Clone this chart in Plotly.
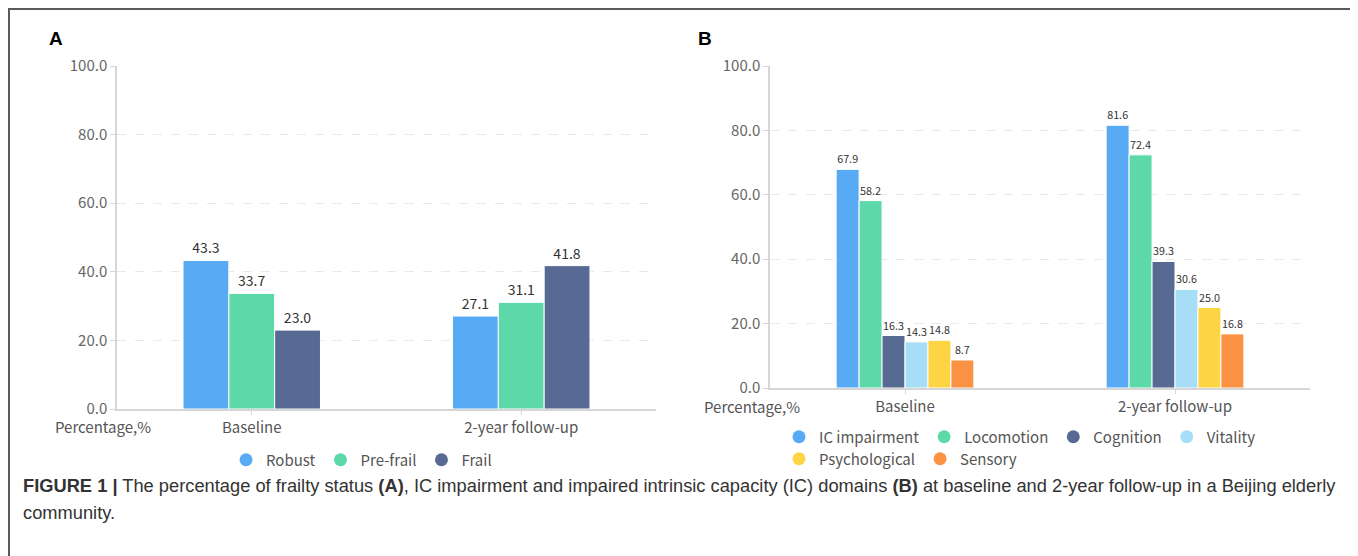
import plotly.graph_objects as go

W, H = 1358, 556
OFF = 8  # page body margin

# ---- data ----
cats = ["Baseline", "2-year follow-up"]
frailty_names = ["Robust", "Pre-frail", "Frail"]
robust = [43.3, 27.1]
prefrail = [33.7, 31.1]
frail = [23.0, 41.8]

ic_names = ["IC impairment", "Locomotion", "Cognition", "Vitality", "Psychological", "Sensory"]
ic_impairment = [67.9, 81.6]
locomotion = [58.2, 72.4]
cognition = [16.3, 39.3]
vitality = [14.3, 30.6]
psychological = [14.8, 25.0]
sensory = [8.7, 16.8]

y_ticks = [0, 20, 40, 60, 80, 100]

colors = ["#58aaf4", "#5dd8a9", "#566a93", "#a6def8", "#fdd544", "#fb9143"]

FONT = "Noto Sans CJK SC"
GRAY = "#666666"

fig = go.Figure()

def px_x(p):
    return (p - OFF) / W

def px_y(p):
    return 1 - (p - OFF) / H

# Panel A bars
for name, vals, col in zip(frailty_names, [robust, prefrail, frail], colors[:3]):
    fig.add_trace(go.Bar(
        x=cats, y=vals, name=name, xaxis="x", yaxis="y",
        marker=dict(color=col, line=dict(color="white", width=1)),
        text=[f"{v:.1f}" for v in vals], textposition="outside",
        textfont=dict(family=FONT, size=14, color="#333333"),
        cliponaxis=False, showlegend=False,
    ))

# Panel B bars
for name, vals, col in zip(ic_names,
                           [ic_impairment, locomotion, cognition, vitality, psychological, sensory],
                           colors):
    fig.add_trace(go.Bar(
        x=cats, y=vals, name=name, xaxis="x2", yaxis="y2",
        marker=dict(color=col, line=dict(color="white", width=1)),
        text=[f"{v:.1f}" for v in vals], textposition="outside",
        textfont=dict(family=FONT, size=10.8, color="#333333"),
        cliponaxis=False, showlegend=False,
    ))

# Legend entries (circle symbols)
for name, col in zip(frailty_names, colors[:3]):
    fig.add_trace(go.Scatter(x=[None], y=[None], mode="markers", name=name,
                             marker=dict(symbol="circle", size=13, color=col),
                             xaxis="x", yaxis="y", legend="legend"))
for i, (name, col) in enumerate(zip(ic_names, colors)):
    fig.add_trace(go.Scatter(x=[None], y=[None], mode="markers", name=name,
                             marker=dict(symbol="circle", size=13, color=col),
                             xaxis="x2", yaxis="y2",
                             legend="legend2" if i < 4 else "legend3"))

yax_common = dict(
    range=[0, 100], tickvals=y_ticks, tickformat=".1f",
    showgrid=True, gridcolor="#e8e8e8", griddash="dash", gridwidth=1,
    showline=True, linecolor="#d6d6d6", linewidth=1.5,
    ticks="outside", ticklen=5, tickcolor="#d6d6d6",
    tickfont=dict(family=FONT, size=15, color=GRAY),
    zeroline=False, fixedrange=True, automargin=False,
)
xax_common = dict(
    showline=True, linecolor="#d6d6d6", linewidth=1.5,
    ticks="outside", ticklen=4, tickcolor="#d6d6d6",
    tickfont=dict(family=FONT, size=15, color="#555555"),
    showgrid=False, automargin=False,
)

legend_font = dict(family=FONT, size=15, color="#555555")

fig.update_layout(
    width=W, height=H,
    margin=dict(l=0, r=0, t=0, b=0, autoexpand=False),
    paper_bgcolor="white", plot_bgcolor="white",
    barmode="group", bargap=0.49, bargroupgap=0,
    xaxis=dict(domain=[px_x(117), px_x(656)], anchor="y", **xax_common),
    yaxis=dict(domain=[px_y(409), px_y(66)], anchor="x", **yax_common),
    xaxis2=dict(domain=[px_x(770), px_x(1310)], anchor="y2", **xax_common),
    yaxis2=dict(domain=[px_y(388), px_y(66)], anchor="x2", **yax_common),
    legend=dict(orientation="h", x=px_x(226), y=px_y(460), xanchor="left", yanchor="middle",
                font=legend_font, bgcolor="rgba(0,0,0,0)"),
    legend2=dict(orientation="h", x=px_x(779), y=px_y(437), xanchor="left", yanchor="middle",
                 font=legend_font, bgcolor="rgba(0,0,0,0)"),
    legend3=dict(orientation="h", x=px_x(779), y=px_y(459), xanchor="left", yanchor="middle",
                 font=legend_font, bgcolor="rgba(0,0,0,0)"),
    showlegend=True,
)

# Border
BC = "#5a5a5a"
fig.add_shape(type="line", xref="paper", yref="paper",
              x0=px_x(8), x1=px_x(1355), y0=px_y(9), y1=px_y(9),
              line=dict(color=BC, width=2))
fig.add_shape(type="line", xref="paper", yref="paper",
              x0=px_x(9), x1=px_x(9), y0=px_y(9), y1=-0.05,
              line=dict(color=BC, width=2))
fig.add_shape(type="line", xref="paper", yref="paper",
              x0=px_x(1355), x1=px_x(1355), y0=px_y(9), y1=-0.05,
              line=dict(color=BC, width=2))

ann = []
ann.append(dict(text="<b>A</b>", x=px_x(47), y=px_y(38), xref="paper", yref="paper",
                xanchor="left", yanchor="middle", showarrow=False,
                font=dict(family="Liberation Sans", size=19, color="#000000")))
ann.append(dict(text="<b>B</b>", x=px_x(696), y=px_y(38), xref="paper", yref="paper",
                xanchor="left", yanchor="middle", showarrow=False,
                font=dict(family="Liberation Sans", size=19, color="#000000")))
ann.append(dict(text="Percentage,%", x=px_x(103), y=px_y(426), xref="paper", yref="paper",
                xanchor="center", yanchor="middle", showarrow=False,
                font=dict(family=FONT, size=15, color="#555555")))
ann.append(dict(text="Percentage,%", x=px_x(752), y=px_y(406), xref="paper", yref="paper",
                xanchor="center", yanchor="middle", showarrow=False,
                font=dict(family=FONT, size=15, color="#555555")))
ann.append(dict(
    text="<b>FIGURE 1 |</b> The percentage of frailty status <b>(A)</b>, IC impairment and impaired intrinsic capacity (IC) domains <b>(B)</b> at baseline and 2-year follow-up in a Beijing elderly",
    x=px_x(21), y=px_y(485), xref="paper", yref="paper", xanchor="left", yanchor="middle",
    showarrow=False, font=dict(family="Liberation Sans", size=18.3, color="#333333")))
ann.append(dict(
    text="community.",
    x=px_x(21), y=px_y(512), xref="paper", yref="paper", xanchor="left", yanchor="middle",
    showarrow=False, font=dict(family="Liberation Sans", size=18.3, color="#333333")))
fig.update_layout(annotations=ann)

fig.write_html("out.html")
